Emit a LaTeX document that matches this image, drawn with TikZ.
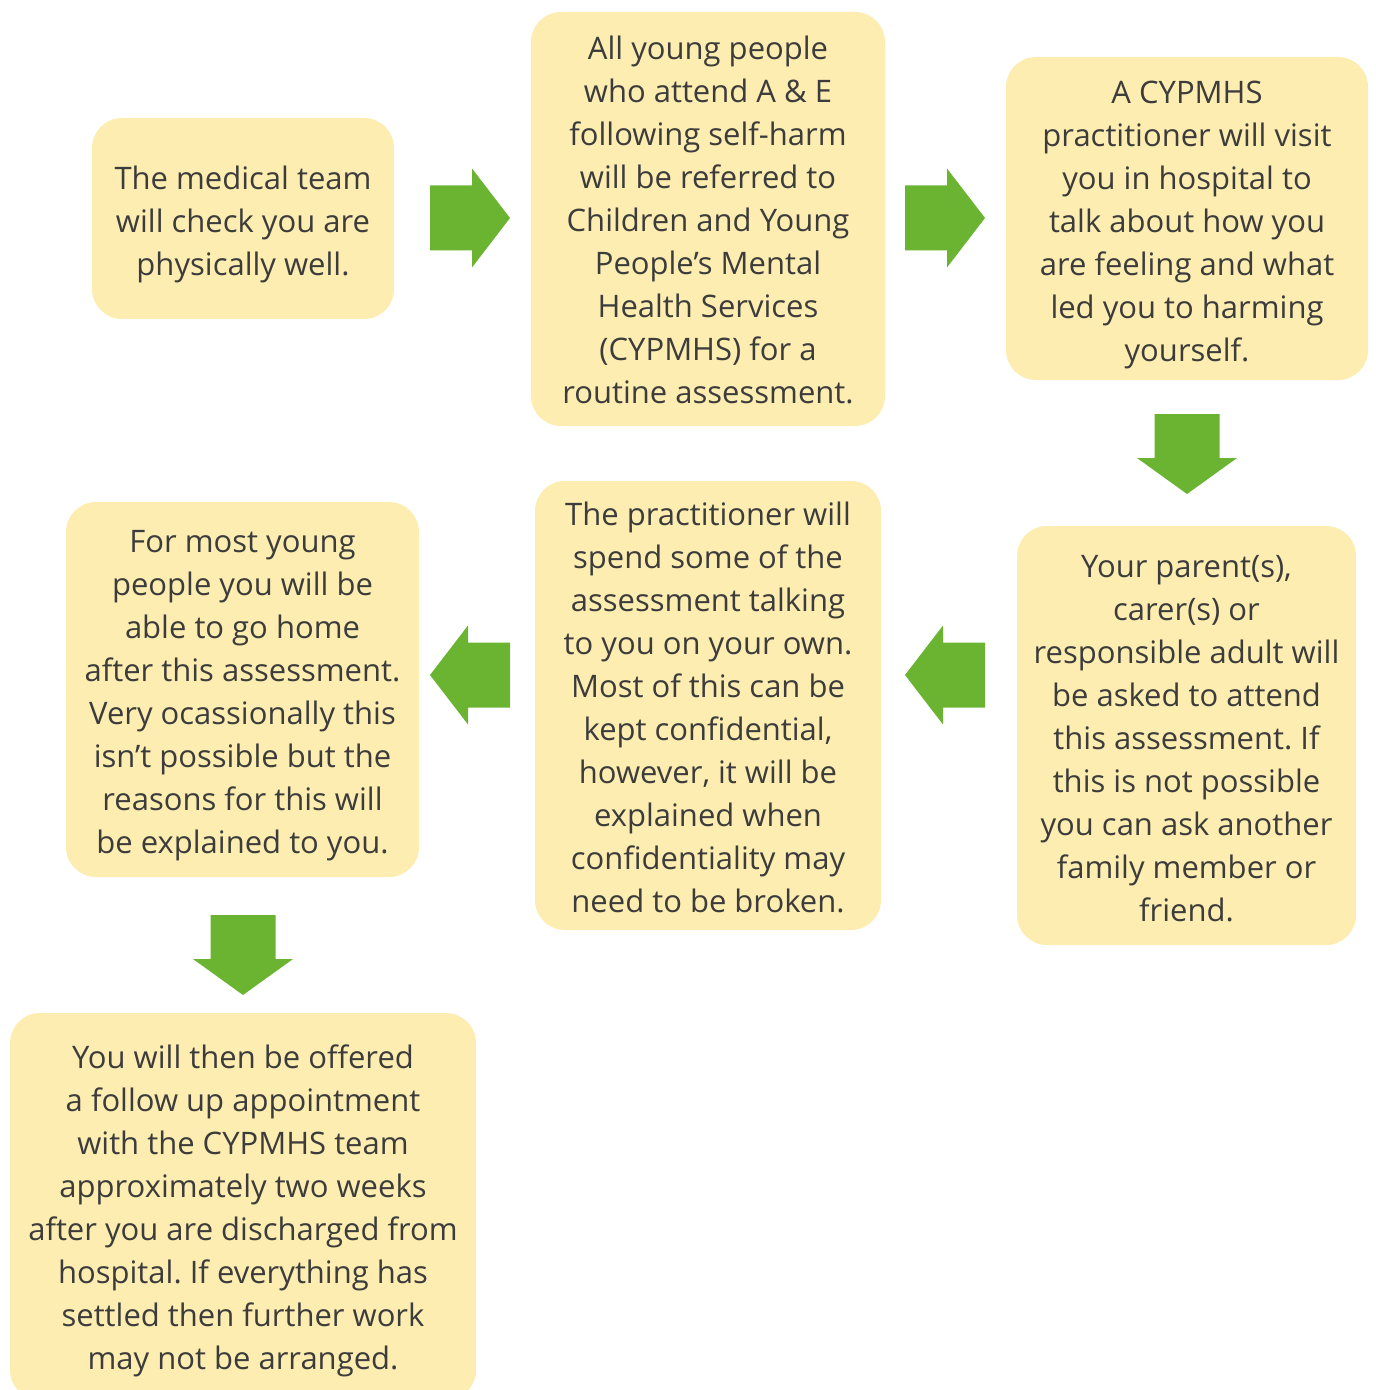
\documentclass[tikz,border=0pt]{standalone}
\usepackage{fontspec}
\setmainfont{Open Sans}
\frenchspacing
\definecolor{boxy}{RGB}{253,237,176}
\definecolor{grn}{RGB}{106,180,50}
\definecolor{txt}{RGB}{60,60,60}
\begin{document}
\begin{tikzpicture}[x=0.5pt,y=-0.5pt,
  box/.style={fill=boxy, rounded corners=15pt, inner sep=0pt},
  label text/.style={align=center, inner sep=0pt, text=txt,
    font=\fontsize{15.5}{21.5}\selectfont\frenchspacing,
    execute at begin node=\strut, execute at end node=\strut},
  rarrow/.pic={\fill[grn] (-40,-32.5) -- (2,-32.5) -- (2,-49.5) -- (40,0) -- (2,49.5) -- (2,32.5) -- (-40,32.5) -- cycle;},
  larrow/.pic={\fill[grn] (40,-32.5) -- (-2,-32.5) -- (-2,-49.5) -- (-40,0) -- (-2,49.5) -- (-2,32.5) -- (40,32.5) -- cycle;},
  darrow/.pic={\fill[grn] (-32.5,-40) -- (-32.5,4) -- (-50,4) -- (0,40) -- (50,4) -- (32.5,4) -- (32.5,-40) -- cycle;}
]
\fill[white] (0,0) rectangle (1375,1390);
\useasboundingbox (0,0) rectangle (1375,1390);

\node[box, minimum width=151pt, minimum height=100.5pt] (b1) at (243,218.5) {};
\node[box, minimum width=177pt, minimum height=207pt] (b2) at (708,219) {};
\node[box, minimum width=181pt, minimum height=161.5pt] (b3) at (1187,218.5) {};
\node[box, minimum width=169.5pt, minimum height=209.5pt] (b4) at (1186.5,735.5) {};
\node[box, minimum width=173pt, minimum height=224.5pt] (b5) at (708,705.5) {};
\node[box, minimum width=176.5pt, minimum height=187.5pt] (b6) at (242.5,689.5) {};
\node[box, minimum width=233pt, minimum height=193.5pt] (b7) at (243,1206.5) {};

\node[label text] (t1) at ([yshift=-4.5pt]b1.center)
  {The medical team\\will check you are\\physically well.};
\node[label text] (t2) at ([yshift=-3.5pt]b2.center)
  {All young people\\who attend A \& E\\following self-harm\\will be referred to\\Children and Young\\People’s Mental\\Health Services\\(CYPMHS) for a\\routine assessment.};
\node[label text] (t3) at ([yshift=-4.5pt]b3.center)
  {A CYPMHS\\practitioner will visit\\you in hospital to\\talk about how you\\are feeling and what\\led you to harming\\yourself.};
\node[label text] (t4) at ([yshift=-4.5pt]b4.center)
  {Your parent(s),\\carer(s) or\\responsible adult will\\be asked to attend\\this assessment. If\\this is not possible\\you can ask another\\family member or\\friend.};
\node[label text] (t5) at ([yshift=-4pt]b5.center)
  {The practitioner will\\spend some of the\\assessment talking\\to you on your own.\\Most of this can be\\kept confidential,\\however, it will be\\explained when\\confidentiality may\\need to be broken.};
\node[label text] (t6) at ([yshift=-4.5pt]b6.center)
  {For most young\\people you will be\\able to go home\\after this assessment.\\Very ocassionally this\\isn’t possible but the\\reasons for this will\\be explained to you.};
\node[label text] (t7) at ([yshift=-3.5pt]b7.center)
  {You will then be offered\\a follow up appointment\\with the CYPMHS team\\approximately two weeks\\after you are discharged from\\hospital. If everything has\\settled then further work\\may not be arranged.};

\pic (a1) at (470,218) {rarrow};
\pic (a2) at (945,218) {rarrow};
\pic (a3) at (1187,454) {darrow};
\pic (a4) at (945,675) {larrow};
\pic (a5) at (470,675) {larrow};
\pic (a6) at (243,955) {darrow};
\end{tikzpicture}
\end{document}
